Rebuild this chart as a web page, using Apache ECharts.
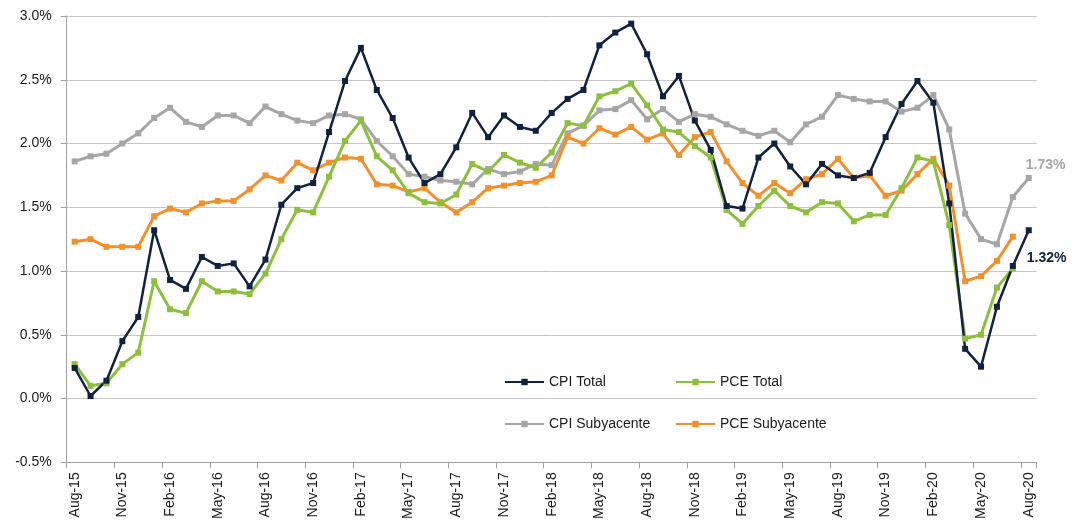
<!DOCTYPE html>
<html>
<head>
<meta charset="utf-8">
<script src="https://cdn.jsdelivr.net/npm/echarts@6/dist/echarts.min.js"></script>
<style>
  html, body { margin: 0; padding: 0; background: #fff; }
  #chart { width: 1079px; height: 522px; }
</style>
</head>
<body>
<div id="chart"></div>
<script>
// months Aug-15 .. Aug-20
const months = [
  'Aug-15', 'Sep-15', 'Oct-15', 'Nov-15', 'Dec-15', 'Jan-16', 'Feb-16', 'Mar-16', 'Apr-16', 'May-16', 'Jun-16', 'Jul-16',
  'Aug-16', 'Sep-16', 'Oct-16', 'Nov-16', 'Dec-16', 'Jan-17', 'Feb-17', 'Mar-17', 'Apr-17', 'May-17', 'Jun-17', 'Jul-17',
  'Aug-17', 'Sep-17', 'Oct-17', 'Nov-17', 'Dec-17', 'Jan-18', 'Feb-18', 'Mar-18', 'Apr-18', 'May-18', 'Jun-18', 'Jul-18',
  'Aug-18', 'Sep-18', 'Oct-18', 'Nov-18', 'Dec-18', 'Jan-19', 'Feb-19', 'Mar-19', 'Apr-19', 'May-19', 'Jun-19', 'Jul-19',
  'Aug-19', 'Sep-19', 'Oct-19', 'Nov-19', 'Dec-19', 'Jan-20', 'Feb-20', 'Mar-20', 'Apr-20', 'May-20', 'Jun-20', 'Jul-20',
  'Aug-20',
]

const cpiTotal = [
  0.24, 0.02, 0.14, 0.45, 0.64, 1.32, 0.93, 0.86, 1.11, 1.04, 1.06, 0.88,
  1.09, 1.52, 1.65, 1.69, 2.09, 2.49, 2.75, 2.42, 2.20, 1.89, 1.69, 1.76,
  1.97, 2.24, 2.05, 2.22, 2.13, 2.10, 2.24, 2.35, 2.42, 2.77, 2.87, 2.94,
  2.70, 2.37, 2.53, 2.18, 1.95, 1.51, 1.49, 1.89, 2.00, 1.82, 1.68, 1.84,
  1.75, 1.73, 1.77, 2.05, 2.31, 2.49, 2.32, 1.53, 0.39, 0.25, 0.72, 1.04,
  1.32,
]

const pceTotal = [
  0.27, 0.10, 0.12, 0.27, 0.36, 0.92, 0.70, 0.67, 0.92, 0.84, 0.84, 0.82,
  0.98, 1.25, 1.48, 1.46, 1.74, 2.02, 2.18, 1.90, 1.79, 1.61, 1.54, 1.53,
  1.60, 1.84, 1.78, 1.91, 1.85, 1.81, 1.93, 2.16, 2.14, 2.37, 2.41, 2.47,
  2.30, 2.11, 2.09, 1.98, 1.89, 1.48, 1.37, 1.51, 1.63, 1.51, 1.46, 1.54,
  1.53, 1.39, 1.44, 1.44, 1.65, 1.89, 1.86, 1.36, 0.47, 0.50, 0.87, 1.02,
  null,
]

const cpiCore = [
  1.86, 1.90, 1.92, 2.00, 2.08, 2.20, 2.28, 2.17, 2.13, 2.22, 2.22, 2.16,
  2.29, 2.23, 2.18, 2.16, 2.22, 2.23, 2.19, 2.02, 1.90, 1.76, 1.74, 1.71,
  1.70, 1.68, 1.80, 1.76, 1.78, 1.84, 1.83, 2.08, 2.14, 2.26, 2.27, 2.34,
  2.19, 2.27, 2.17, 2.23, 2.21, 2.15, 2.10, 2.06, 2.10, 2.01, 2.15, 2.21,
  2.38, 2.35, 2.33, 2.33, 2.25, 2.28, 2.38, 2.11, 1.45, 1.25, 1.21, 1.58,
  1.73,
]

const pceCore = [
  1.23, 1.25, 1.19, 1.19, 1.19, 1.43, 1.49, 1.46, 1.53, 1.55, 1.55, 1.64,
  1.75, 1.71, 1.85, 1.79, 1.85, 1.89, 1.88, 1.68, 1.67, 1.62, 1.65, 1.54,
  1.46, 1.54, 1.65, 1.67, 1.69, 1.70, 1.75, 2.05, 2.00, 2.12, 2.07, 2.13,
  2.03, 2.08, 1.91, 2.05, 2.09, 1.86, 1.69, 1.59, 1.69, 1.61, 1.72, 1.76,
  1.88, 1.73, 1.75, 1.59, 1.63, 1.76, 1.88, 1.67, 0.92, 0.96, 1.08, 1.27,
  null,
]

const yTicks = { min: -0.5, max: 3.0, step: 0.5 }

const FONT = 'Liberation Sans, Arial, sans-serif'
const NAVY = '#12213f'
const GREEN = '#8cbf3c'
const GRAY = '#a6a6a6'
const ORANGE = '#f0912e'

// put a value label next to the last point
const withEndLabel = (values, color, pos) =>
  values.map((v, i) => {
    if (i !== values.length - 1) return v
    return {
      value: v,
      label: {
        show: true,
        position: pos,
        formatter: (p) => p.value.toFixed(2) + '%',
        color: color,
        fontFamily: FONT,
        fontSize: 14,
        fontWeight: 'bold',
      },
    }
  })

const makeSeries = (name, data, color, width) => ({
  name,
  type: 'line',
  data,
  symbol: 'rect',
  symbolSize: 6,
  showSymbol: true,
  lineStyle: { color, width },
  itemStyle: { color },
  emphasis: { disabled: true },
})

const legendBase = {
  orient: 'vertical',
  top: 370,
  itemWidth: 39,
  itemHeight: 8,
  itemGap: 28,
  textStyle: { fontFamily: FONT, fontSize: 14, color: '#1a1a1a', lineHeight: 14 },
}

const chart = echarts.init(document.getElementById('chart'))

chart.setOption({
  animation: false,
  grid: { left: 66.7, right: 42.3, top: 16, bottom: 59.3 },
  legend: [
    { ...legendBase, data: ['CPI Total', 'CPI Subyacente'], left: 499 },
    { ...legendBase, data: ['PCE Total', 'PCE Subyacente'], left: 670 },
  ],
  xAxis: {
    type: 'category',
    data: months,
    boundaryGap: true,
    axisLine: { onZero: false, lineStyle: { color: '#a0a0a0', width: 1 } },
    axisTick: { show: true, interval: 2, length: 6, lineStyle: { color: '#a0a0a0' } },
    axisLabel: {
      interval: 2,
      rotate: 90,
      margin: 10,
      color: '#1a1a1a',
      fontFamily: FONT,
      fontSize: 14,
    },
    splitLine: { show: false },
  },
  yAxis: {
    type: 'value',
    min: yTicks.min,
    max: yTicks.max,
    interval: yTicks.step,
    axisLine: { show: true, lineStyle: { color: '#a0a0a0', width: 1 } },
    axisTick: { show: true, length: 6, lineStyle: { color: '#a0a0a0' } },
    axisLabel: {
      margin: 15,
      color: '#1a1a1a',
      fontFamily: FONT,
      fontSize: 14,
      formatter: (v) => v.toFixed(1) + '%',
    },
    splitLine: { lineStyle: { color: '#c6c6c6', width: 1 } },
  },
  series: [
    makeSeries('CPI Subyacente', withEndLabel(cpiCore, GRAY, [0, -17]), GRAY, 3),
    makeSeries('PCE Subyacente', pceCore, ORANGE, 3),
    makeSeries('PCE Total', pceTotal, GREEN, 3),
    makeSeries('CPI Total', withEndLabel(cpiTotal, NAVY, [1, 24]), NAVY, 2.5),
  ],
})
</script>
</body>
</html>
